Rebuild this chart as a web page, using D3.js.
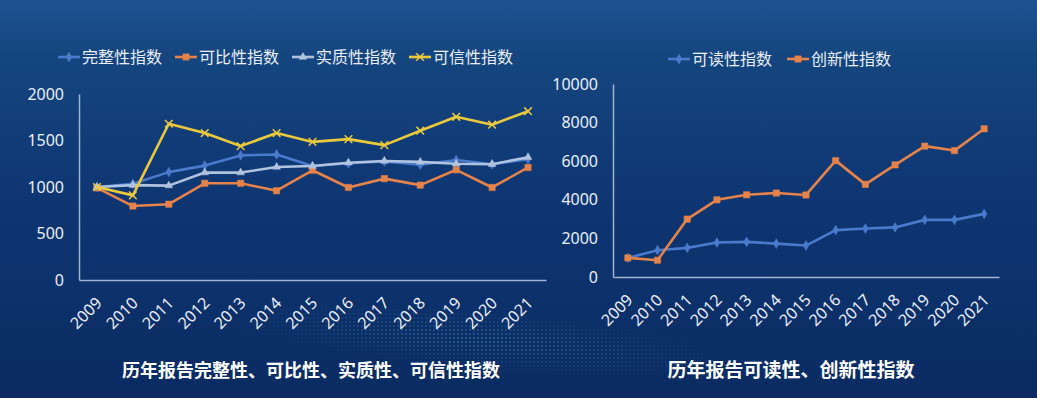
<!DOCTYPE html>
<html>
<head>
<meta charset="utf-8">
<script src="https://cdn.jsdelivr.net/npm/d3@7"></script>
<style>
  body { margin: 0; background: #0d3570; }
  svg { display: block; }
  text { font-family: "Noto Sans CJK SC", "Noto Sans", sans-serif; }
</style>
</head>
<body>
<svg id="chart" width="1037" height="398"></svg>
<script>
// data
var years = ["2009", "2010", "2011", "2012", "2013", "2014", "2015", "2016", "2017", "2018", "2019", "2020", "2021"];

var wanzhengxing = [1000, 1035, 1160, 1230, 1340, 1350, 1225, 1255, 1275, 1240, 1290, 1245, 1300];
var kebixing     = [990, 795, 815, 1040, 1040, 960, 1180, 995, 1090, 1020, 1185, 995, 1210];
var shizhixing   = [1000, 1020, 1015, 1155, 1155, 1215, 1225, 1260, 1280, 1270, 1250, 1245, 1320];
var kexinxing    = [1000, 910, 1680, 1580, 1440, 1580, 1485, 1515, 1450, 1605, 1755, 1670, 1815];

var keduxing     = [990, 1390, 1510, 1785, 1820, 1730, 1630, 2430, 2510, 2570, 2960, 2960, 3270];
var chuangxinxing = [990, 870, 3000, 4000, 4260, 4350, 4250, 6030, 4800, 5810, 6780, 6550, 7680];

var leftTicks = [0, 500, 1000, 1500, 2000];
var rightTicks = [0, 2000, 4000, 6000, 8000, 10000];

var leftTitle = "历年报告完整性、可比性、实质性、可信性指数";
var rightTitle = "历年报告可读性、创新性指数";

var svg = d3.select("#chart");
var W = 1037, H = 398;

// background
var defs = svg.append("defs");
var bg = defs.append("linearGradient").attr("id", "bg")
    .attr("x1", 0).attr("y1", 0).attr("x2", 0).attr("y2", 1);
bg.append("stop").attr("offset", 0).attr("stop-color", "#1d5393");
bg.append("stop").attr("offset", 0.13).attr("stop-color", "#15467f");
bg.append("stop").attr("offset", 0.5).attr("stop-color", "#0e3672");
bg.append("stop").attr("offset", 1).attr("stop-color", "#0b2b62");

var dots = defs.append("pattern").attr("id", "dots")
    .attr("width", 4).attr("height", 4).attr("patternUnits", "userSpaceOnUse");
dots.append("circle").attr("cx", 2).attr("cy", 2).attr("r", 0.9).attr("fill", "#4fb0cf");

var fade = defs.append("radialGradient").attr("id", "fade");
fade.append("stop").attr("offset", 0).attr("stop-color", "#fff").attr("stop-opacity", 0.55);
fade.append("stop").attr("offset", 1).attr("stop-color", "#fff").attr("stop-opacity", 0);
defs.append("mask").attr("id", "fadeMask")
    .append("ellipse")
    .attr("cx", 480).attr("cy", 340).attr("rx", 250).attr("ry", 30)
    .attr("transform", "rotate(5,480,340)")
    .attr("fill", "url(#fade)");

svg.append("rect").attr("width", W).attr("height", H).attr("fill", "url(#bg)");
svg.append("rect").attr("width", W).attr("height", H)
    .attr("fill", "url(#dots)").attr("mask", "url(#fadeMask)");

var axisColor = "#9fb4d3";
var textColor = "#e9eef7";

function marker(type) {
    if (type == "diamond") return d3.symbol(d3.symbolDiamond, 28)();
    if (type == "square") return d3.symbol(d3.symbolSquare, 40)();
    if (type == "triangle") return d3.symbol(d3.symbolTriangle, 26)();
    return d3.symbol(d3.symbolX, 40)();
}

function drawChart(g, o) {
    var x = d3.scaleBand()
        .domain(years)
        .range([o.x0, o.x1]);
    var y = d3.scaleLinear()
        .domain([0, o.ticks[o.ticks.length - 1]])
        .range([o.y0, o.y1]);
    var cx = function(d, i) { return x(years[i]) + x.bandwidth() / 2; };

    // y axis
    var ya = g.append("g")
        .attr("transform", "translate(" + o.x0 + ",0)")
        .call(d3.axisLeft(y).tickValues(o.ticks).tickSize(0).tickPadding(15).tickFormat(d3.format("d")));
    ya.select(".domain").attr("stroke", axisColor).attr("stroke-width", 1.5);
    ya.selectAll("text").attr("fill", textColor).style("font-size", "16px")
        .style("font-family", "'Noto Sans', sans-serif");

    // x axis, labels turned 45 degrees
    var xa = g.append("g")
        .attr("transform", "translate(0," + o.y0 + ")")
        .call(d3.axisBottom(x).tickSize(0).tickSizeOuter(0));
    xa.select(".domain").attr("stroke", axisColor).attr("stroke-width", 1.5);
    xa.selectAll("text")
        .attr("fill", textColor)
        .style("font-size", "16px")
        .style("font-family", "'Noto Sans', sans-serif")
        .attr("text-anchor", "end")
        .attr("dy", null)
        .attr("y", 0)
        .attr("transform", "translate(6,24) rotate(-45)");

    // lines
    var line = d3.line().x(cx).y(function(d) { return y(d); });
    o.series.forEach(function(s) {
        g.append("path")
            .attr("d", line(s.values))
            .attr("fill", "none")
            .attr("stroke", s.color)
            .attr("stroke-width", 2.6)
            .attr("stroke-linejoin", "round");
        g.append("g").selectAll("path")
            .data(s.values)
            .enter().append("path")
            .attr("d", marker(s.marker))
            .attr("transform", function(d, i) { return "translate(" + cx(d, i) + "," + y(d) + ")"; })
            .attr("fill", s.marker == "x" ? "none" : s.color)
            .attr("stroke", s.color)
            .attr("stroke-width", s.marker == "x" ? 1.5 : 0.5);
    });

    // legend
    var lg = g.append("g").selectAll("g")
        .data(o.series)
        .enter().append("g")
        .attr("transform", function(d, i) { return "translate(" + (o.legendX + i * o.legendStep) + "," + o.legendY + ")"; });
    lg.append("line")
        .attr("x1", 0).attr("x2", 22)
        .attr("stroke", function(d) { return d.color; })
        .attr("stroke-width", 2.6);
    lg.append("path")
        .attr("d", function(d) { return marker(d.marker); })
        .attr("transform", "translate(11,0)")
        .attr("fill", function(d) { return d.marker == "x" ? "none" : d.color; })
        .attr("stroke", function(d) { return d.color; })
        .attr("stroke-width", function(d) { return d.marker == "x" ? 1.5 : 0.5; });
    lg.append("text")
        .attr("x", 24).attr("y", 6)
        .attr("fill", textColor)
        .style("font-size", "16px")
        .text(function(d) { return d.name; });

    // title under the chart
    g.append("text")
        .attr("x", o.titleX).attr("y", 377)
        .attr("text-anchor", "middle")
        .attr("fill", "#ffffff")
        .style("font-size", o.titleSize + "px")
        .style("font-weight", "bold")
        .text(o.title);
}

drawChart(svg.append("g"), {
    x0: 79, x1: 546, y0: 280, y1: 94,
    ticks: leftTicks,
    series: [
        {name: "完整性指数", values: wanzhengxing, color: "#4a7acb", marker: "diamond"},
        {name: "可比性指数", values: kebixing, color: "#e5834a", marker: "square"},
        {name: "实质性指数", values: shizhixing, color: "#b0c3df", marker: "triangle"},
        {name: "可信性指数", values: kexinxing, color: "#ecc93c", marker: "x"}
    ],
    legendX: 58, legendY: 57, legendStep: 117,
    title: leftTitle, titleX: 311, titleSize: 18
});

drawChart(svg.append("g"), {
    x0: 613, x1: 999, y0: 277, y1: 84,
    ticks: rightTicks,
    series: [
        {name: "可读性指数", values: keduxing, color: "#4a7acb", marker: "diamond"},
        {name: "创新性指数", values: chuangxinxing, color: "#e5834a", marker: "square"}
    ],
    legendX: 668, legendY: 59, legendStep: 119,
    title: rightTitle, titleX: 791, titleSize: 19
});
</script>
</body>
</html>
